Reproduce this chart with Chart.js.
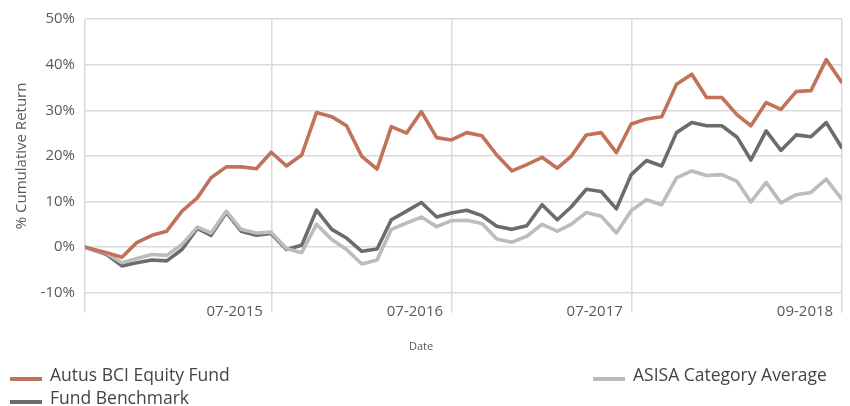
<!DOCTYPE html>
<html><head><meta charset="utf-8">
<script src="https://cdn.jsdelivr.net/npm/chart.js@4.4.1/dist/chart.umd.min.js"></script>
<style>
html,body{margin:0;padding:0;background:#fff;}
#wrap{position:relative;width:850px;height:406px;overflow:hidden;}
#c{position:absolute;left:0;top:0;}
.lg{position:absolute;font-family:'Open Sans',sans-serif;font-size:17.5px;color:#444;white-space:nowrap;line-height:20px;}
.sw{position:absolute;height:4px;}
</style></head>
<body><div id="wrap"><canvas id="c" width="850" height="406"></canvas><div id="legend"></div></div>
<script>
const dates = ['2014-06-17',
 '2014-07-31','2014-08-31','2014-09-30','2014-10-31','2014-11-30','2014-12-31',
 '2015-01-31','2015-02-28','2015-03-31','2015-04-30','2015-05-31','2015-06-30',
 '2015-07-31','2015-08-31','2015-09-30','2015-10-31','2015-11-30','2015-12-31',
 '2016-01-31','2016-02-29','2016-03-31','2016-04-30','2016-05-31','2016-06-30',
 '2016-07-31','2016-08-31','2016-09-30','2016-10-31','2016-11-30','2016-12-31',
 '2017-01-31','2017-02-28','2017-03-31','2017-04-30','2017-05-31','2017-06-30',
 '2017-07-31','2017-08-31','2017-09-30','2017-10-31','2017-11-30','2017-12-31',
 '2018-01-31','2018-02-28','2018-03-31','2018-04-30','2018-05-31','2018-06-30',
 '2018-07-31','2018-08-31'];
const autusFund = [0.0,
 -1.2, -2.2, 1.0, 2.6, 3.5, 7.9, 10.8, 15.2, 17.6, 17.6, 17.2, 20.8,
 17.8, 20.2, 29.5, 28.6, 26.6, 19.9, 17.1, 26.4, 25.0, 29.7, 24.0, 23.5,
 25.1, 24.4, 20.2, 16.7, 18.1, 19.7, 17.3, 19.9, 24.6, 25.1, 20.7, 27.0,
 28.1, 28.6, 35.7, 37.9, 32.8, 32.8, 29.0, 26.6, 31.7, 30.2, 34.1, 34.3,
 41.1, 36.2];
const fundBenchmark = [0.0,
 -1.6, -4.1, -3.4, -2.8, -3.0, -0.5, 4.1, 2.6, 7.6, 3.5, 2.6, 3.0,
 -0.5, 0.4, 8.1, 3.9, 2.0, -0.9, -0.4, 6.0, 7.9, 9.8, 6.6, 7.5,
 8.1, 6.9, 4.6, 3.9, 4.7, 9.3, 6.0, 8.8, 12.7, 12.2, 8.4, 15.9,
 19.0, 17.8, 25.1, 27.3, 26.6, 26.6, 24.1, 19.1, 25.5, 21.2, 24.6, 24.2,
 27.3, 21.9];
const asisaAverage = [0.0,
 -1.4, -3.4, -2.5, -1.6, -1.8, 0.6, 4.4, 3.1, 7.9, 3.9, 3.1, 3.3,
 -0.3, -1.2, 5.0, 1.7, -0.5, -3.7, -2.8, 3.9, 5.3, 6.6, 4.5, 5.8,
 5.9, 5.2, 1.8, 1.1, 2.4, 5.0, 3.5, 5.0, 7.6, 6.8, 3.1, 8.0,
 10.4, 9.3, 15.2, 16.7, 15.7, 15.9, 14.4, 9.9, 14.2, 9.7, 11.5, 12.0,
 14.9, 10.6];
const tickDates = ['2014-06-17','2015-07-01','2016-07-01','2017-07-01','2018-09-01'];
const tickLabels = ['', '07-2015', '07-2016', '07-2017', '09-2018'];
const yTicks = [-10, 0, 10, 20, 30, 40, 50];
const seriesNames = ['Autus BCI Equity Fund', 'Fund Benchmark', 'ASISA Category Average'];
const seriesColors = ['#c1735a', '#6d6d68', '#bcbcbc'];

const toNum = d => Date.parse(d + 'T00:00:00Z') / 86400000;
const pts = arr => dates.map((d, i) => ({x: toNum(d), y: arr[i]}));
const FONT = "'Open Sans', sans-serif";
const TXT = '#595959';

new Chart(document.getElementById('c'), {
  type: 'line',
  data: {
    datasets: [
      {label: seriesNames[0], data: pts(autusFund), borderColor: seriesColors[0], order: 0},
      {label: seriesNames[1], data: pts(fundBenchmark), borderColor: seriesColors[1], order: 2},
      {label: seriesNames[2], data: pts(asisaAverage), borderColor: seriesColors[2], order: 1}
    ].map(d => Object.assign(d, {borderWidth: 3.6, pointRadius: 0, tension: 0, fill: false, borderJoinStyle: 'round', borderCapStyle: 'round'}))
  },
  options: {
    responsive: false,
    animation: false,
    layout: {padding: {left: 0, right: 8, top: 18, bottom: 53}},
    plugins: {
      legend: {display: false},
      tooltip: {enabled: false},
      title: {display: true, text: 'Date', position: 'bottom', color: TXT,
        font: {family: FONT, size: 11, weight: 'normal'}, padding: {top: 7, bottom: 0}}
    },
    scales: {
      x: {
        type: 'linear',
        min: toNum(tickDates[0]),
        max: toNum(tickDates[tickDates.length - 1]),
        afterBuildTicks: s => { s.ticks = tickDates.map(d => ({value: toNum(d)})); },
        afterFit: s => { s.height = 40; s.paddingLeft = 0; s.paddingRight = 0; },
        grid: {color: '#dadada', lineWidth: 1.5, tickLength: 20, drawTicks: true},
        border: {display: false},
        ticks: {callback: (v, i) => tickLabels[i], labelOffset: -37, padding: -10, maxRotation: 0,
          autoSkip: false, color: TXT, font: {family: FONT, size: 15}}
      },
      y: {
        min: yTicks[0], max: yTicks[yTicks.length - 1],
        afterBuildTicks: s => { s.ticks = yTicks.map(v => ({value: v})); },
        afterFit: s => { s.width = 85; },
        grid: {color: '#dadada', lineWidth: 1.5, drawTicks: false},
        border: {display: false},
        ticks: {padding: 10, callback: v => v + '%', color: TXT, font: {family: FONT, size: 15}},
        title: {display: true, text: '% Cumulative Return', color: TXT,
          font: {family: FONT, size: 15}, padding: {top: 13, bottom: 0}}
      }
    }
  }
});

// HTML legend (two columns: Autus / Benchmark on left, ASISA on right)
const legendPos = [{x: 10, y: 375}, {x: 10, y: 398}, {x: 593, y: 375}];
const lg = document.getElementById('legend');
seriesNames.forEach((name, i) => {
  const p = legendPos[i];
  const sw = document.createElement('div');
  sw.className = 'sw';
  sw.style.cssText = `left:${p.x}px;top:${p.y + 2}px;width:32px;background:${seriesColors[i]};`;
  lg.appendChild(sw);
  const t = document.createElement('div');
  t.className = 'lg';
  t.style.left = (p.x + 40) + 'px';
  t.style.top = (p.y - 11) + 'px';
  t.textContent = name;
  lg.appendChild(t);
});
</script>
</body></html>
